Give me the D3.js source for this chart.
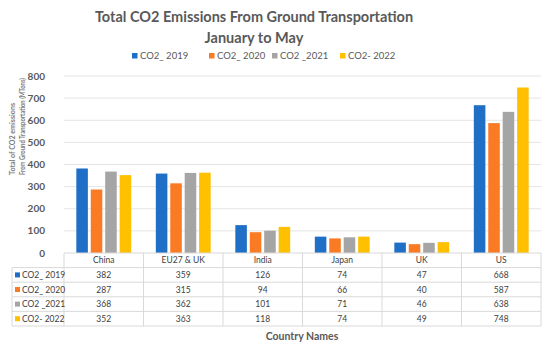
<!DOCTYPE html>
<html>
<head>
<meta charset="utf-8">
<script src="https://cdn.jsdelivr.net/npm/d3@7"></script>
<style>
  body { margin: 0; background: #fff; }
  svg { font-family: Lato, "Open Sans", sans-serif; display: block; }
</style>
</head>
<body>
<svg width="550" height="349"></svg>
<script>
const countries = ["China", "EU27 & UK", "India", "Japan", "UK", "US"];
const seriesNames = ["CO2_ 2019", "CO2_ 2020", "CO2 _2021", "CO2- 2022"];
const co2_2019 = [382, 359, 126, 74, 47, 668];
const co2_2020 = [287, 315, 94, 66, 40, 587];
const co2_2021 = [368, 362, 101, 71, 46, 638];
const co2_2022 = [352, 363, 118, 74, 49, 748];
const yTicks = [0, 100, 200, 300, 400, 500, 600, 700, 800];
const colors = ["#1f6fc6", "#fb7b25", "#a5a5a5", "#ffc000"];

const values = [co2_2019, co2_2020, co2_2021, co2_2022];

const svg = d3.select("svg");
const plotLeft = 64, plotRight = 541, plotTop = 76, plotBottom = 253;
const rowH = 14.6;
const tableLeft = 12;

const x = d3.scaleBand().domain(countries).range([plotLeft, plotRight]);
const pad = x.bandwidth() * 0.155;
const x1 = d3.scaleBand().domain(seriesNames)
    .range([pad, x.bandwidth() - pad]).paddingInner(0.2);
const y = d3.scaleLinear().domain([0, 800]).range([plotBottom, plotTop]);

// title
const title = svg.append("text").attr("text-anchor", "middle")
    .attr("font-size", 14.5).attr("font-weight", "bold").attr("fill", "#595959");
title.append("tspan").attr("x", 254).attr("y", 22).text("Total CO2 Emissions From Ground Transportation");
title.append("tspan").attr("x", 254).attr("y", 43).text("January to May");

// legend
const legendX = [132, 209, 272, 340];
const legend = svg.append("g").selectAll("g").data(seriesNames).join("g")
    .attr("transform", (d, i) => `translate(${legendX[i]},56)`);
legend.append("rect").attr("x", 0).attr("y", -3).attr("width", 5.5).attr("height", 5.5)
    .attr("fill", (d, i) => colors[i]);
legend.append("text").attr("x", 8).attr("y", 3).attr("font-size", 9.5)
    .attr("fill", "#595959").text(d => d);

// gridlines
svg.append("g").selectAll("line").data(yTicks.filter(t => t > 0)).join("line")
    .attr("x1", plotLeft).attr("x2", plotRight)
    .attr("y1", d => y(d)).attr("y2", d => y(d))
    .attr("stroke", "#e4e4e4").attr("stroke-width", 1);

// y axis labels
svg.append("g").selectAll("text").data(yTicks).join("text")
    .attr("x", 45).attr("y", d => y(d) + 3.5)
    .attr("text-anchor", "end").attr("font-size", 10).attr("font-weight", "bold")
    .attr("fill", "#595959").text(d => d);

// y axis title
const yt = svg.append("text").attr("transform", "translate(0,175) rotate(-90)")
    .attr("font-size", 6.5).attr("font-weight", "bold").attr("fill", "#7a7a7a")
    .attr("lengthAdjust", "spacingAndGlyphs");
yt.append("tspan").attr("x", 0).attr("y", 15).attr("textLength", 72)
    .attr("lengthAdjust", "spacingAndGlyphs").text("Total of CO2 emissions");
yt.append("tspan").attr("x", 0).attr("y", 25).attr("textLength", 97)
    .attr("lengthAdjust", "spacingAndGlyphs").text("From Ground Transportation  (MTons)");

// bars
const groups = svg.append("g").selectAll("g").data(values).join("g")
    .attr("fill", (d, i) => colors[i]);
groups.each(function(vals, si) {
    d3.select(this).selectAll("rect").data(vals).join("rect")
        .attr("x", (d, ci) => x(countries[ci]) + x1(seriesNames[si]))
        .attr("width", x1.bandwidth())
        .attr("y", d => y(d))
        .attr("height", d => y(0) - y(d));
});

// data table
const grid = "#d9d9d9";
const tableBottom = plotBottom + rowH * 5;
const tg = svg.append("g");
tg.append("line").attr("x1", plotLeft).attr("x2", plotRight).attr("y1", plotBottom).attr("y2", plotBottom)
    .attr("stroke", grid);
d3.range(1, 6).forEach(r => {
    tg.append("line").attr("x1", tableLeft).attr("x2", plotRight)
        .attr("y1", plotBottom + r * rowH).attr("y2", plotBottom + r * rowH).attr("stroke", grid);
});
tg.append("line").attr("x1", tableLeft).attr("x2", tableLeft)
    .attr("y1", plotBottom + rowH).attr("y2", tableBottom).attr("stroke", grid);
countries.forEach(c => {
    tg.append("line").attr("x1", x(c)).attr("x2", x(c))
        .attr("y1", plotBottom).attr("y2", tableBottom).attr("stroke", grid);
});
tg.append("line").attr("x1", plotRight).attr("x2", plotRight)
    .attr("y1", plotBottom).attr("y2", tableBottom).attr("stroke", grid);

// header
tg.selectAll("text.hdr").data(countries).join("text").attr("class", "hdr")
    .attr("x", d => x(d) + x.bandwidth() / 2).attr("y", plotBottom + rowH / 2 + 3)
    .attr("text-anchor", "middle").attr("font-size", 8.5).attr("fill", "#404040").text(d => d);

// rows
seriesNames.forEach((s, si) => {
    const ry = plotBottom + rowH * (si + 1);
    tg.append("rect").attr("x", 15).attr("y", ry + rowH / 2 - 2.5).attr("width", 5).attr("height", 5)
        .attr("fill", colors[si]);
    tg.append("text").attr("x", 22).attr("y", ry + rowH / 2 + 3)
        .attr("font-size", 8.5).attr("fill", "#404040").text(s);
    tg.selectAll(null).data(values[si]).join("text")
        .attr("x", (d, ci) => x(countries[ci]) + x.bandwidth() / 2).attr("y", ry + rowH / 2 + 3)
        .attr("text-anchor", "middle").attr("font-size", 8.5).attr("fill", "#404040").text(d => d);
});

// x axis title
svg.append("text").attr("x", 302).attr("y", 340).attr("text-anchor", "middle")
    .attr("font-size", 10.5).attr("font-weight", "bold").attr("fill", "#595959").text("Country Names");
</script>
</body>
</html>
